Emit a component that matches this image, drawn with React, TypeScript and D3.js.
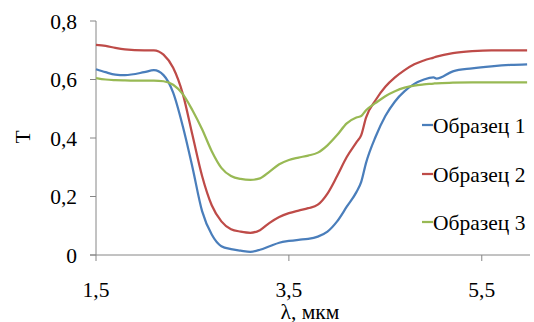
import React from "react";
import * as d3 from "d3";

const wavelengths = [1.5, 1.6, 1.7, 1.8, 2.0, 2.1, 2.2, 2.3, 2.4, 2.5, 2.6, 2.7, 2.8, 2.9, 3.0, 3.1, 3.2, 3.3, 3.4, 3.5, 3.6, 3.7, 3.8, 3.9, 4.0, 4.1, 4.2, 4.25, 4.3, 4.4, 4.5, 4.6, 4.7, 4.8, 4.9, 5.0, 5.03, 5.2, 5.4, 5.6, 5.8, 5.97];

const sample1 = [0.635, 0.625, 0.617, 0.615, 0.625, 0.632, 0.615, 0.555, 0.44, 0.3, 0.15, 0.07, 0.03, 0.02, 0.015, 0.011, 0.018, 0.03, 0.042, 0.048, 0.052, 0.055, 0.063, 0.08, 0.115, 0.165, 0.215, 0.25, 0.315, 0.405, 0.475, 0.525, 0.56, 0.585, 0.6, 0.607, 0.603, 0.628, 0.638, 0.645, 0.65, 0.652];
const sample2 = [0.718, 0.715, 0.708, 0.703, 0.7, 0.7, 0.685, 0.64, 0.551, 0.41, 0.27, 0.17, 0.115, 0.088, 0.08, 0.076, 0.085, 0.11, 0.13, 0.143, 0.152, 0.16, 0.172, 0.21, 0.27, 0.335, 0.385, 0.41, 0.47, 0.53, 0.575, 0.607, 0.632, 0.652, 0.665, 0.675, 0.678, 0.69, 0.697, 0.7, 0.7, 0.7];
const sample3 = [0.605, 0.6, 0.598, 0.597, 0.596, 0.596, 0.594, 0.582, 0.55, 0.495, 0.43, 0.355, 0.298, 0.27, 0.26, 0.257, 0.262, 0.285, 0.31, 0.325, 0.333, 0.34, 0.35, 0.375, 0.41, 0.45, 0.47, 0.475, 0.495, 0.52, 0.543, 0.56, 0.572, 0.579, 0.583, 0.586, 0.587, 0.589, 0.59, 0.59, 0.59, 0.59];

const seriesNames = ["Образец 1", "Образец 2", "Образец 3"];
const seriesColors = ["#4a7ebb", "#be4b48", "#98b954"];
const yTicks = [0, 0.2, 0.4, 0.6, 0.8];
const xTicks = [1.5, 3.5, 5.5];
const xTitle = "λ, мкм";
const yTitle = "T";

const fmt = (v: number) => (v === 0 ? "0" : String(v).replace(".", ","));

export default function App() {
  const W = 534, H = 322;
  const x = d3.scaleLinear().domain([1.5, 6.0]).range([96, 530]);
  const y = d3.scaleLinear().domain([0, 0.8]).range([255, 21]);
  const allSeries = [sample1, sample2, sample3];
  const line = d3
    .line<[number, number]>()
    .x((d) => x(d[0]))
    .y((d) => y(d[1]))
    .curve(d3.curveMonotoneX);
  const ts = { fontFamily: "Liberation Serif", fontSize: 21.5 };
  const axisColor = "#868686";
  const legendY = [125, 174, 222];
  return (
    <svg width={W} height={H} style={{ position: "absolute", left: 0, top: 0, background: "#fff" }}>
      {/* y axis */}
      <line x1={x(1.5)} x2={x(1.5)} y1={y(0.8)} y2={y(0)} stroke={axisColor} strokeWidth={1} />
      {yTicks.map((t) => (
        <g key={"y" + t}>
          <line x1={x(1.5) - 6} x2={x(1.5)} y1={y(t)} y2={y(t)} stroke={axisColor} />
          <text x={77} y={y(t) + 7.5} textAnchor="end" style={ts} fill="#000">
            {fmt(t)}
          </text>
        </g>
      ))}
      {/* x axis */}
      <line x1={x(1.5) - 6} x2={x(6.0)} y1={y(0)} y2={y(0)} stroke={axisColor} strokeWidth={1} />
      {xTicks.map((t) => (
        <g key={"x" + t}>
          <line x1={x(t)} x2={x(t)} y1={y(0)} y2={y(0) + 6} stroke={axisColor} />
          <text x={x(t)} y={297} textAnchor="middle" style={ts} fill="#000">
            {fmt(t)}
          </text>
        </g>
      ))}
      <text x={310} y={319} textAnchor="middle" style={ts} fill="#000">
        {xTitle}
      </text>
      <text transform="translate(30,137) rotate(-90)" textAnchor="middle" style={ts} fill="#000">
        {yTitle}
      </text>
      {/* series */}
      {allSeries.map((s, i) => (
        <path
          key={"s" + i}
          d={line(wavelengths.map((w, j) => [w, s[j]] as [number, number])) || ""}
          fill="none"
          stroke={seriesColors[i]}
          strokeWidth={2.25}
        />
      ))}
      {/* legend */}
      {seriesNames.map((n, i) => (
        <g key={"l" + i}>
          <line x1={422} x2={433} y1={legendY[i]} y2={legendY[i]} stroke={seriesColors[i]} strokeWidth={2.25} />
          <text x={433} y={legendY[i] + 7.5} style={ts} fill="#000">
            {n}
          </text>
        </g>
      ))}
    </svg>
  );
}
